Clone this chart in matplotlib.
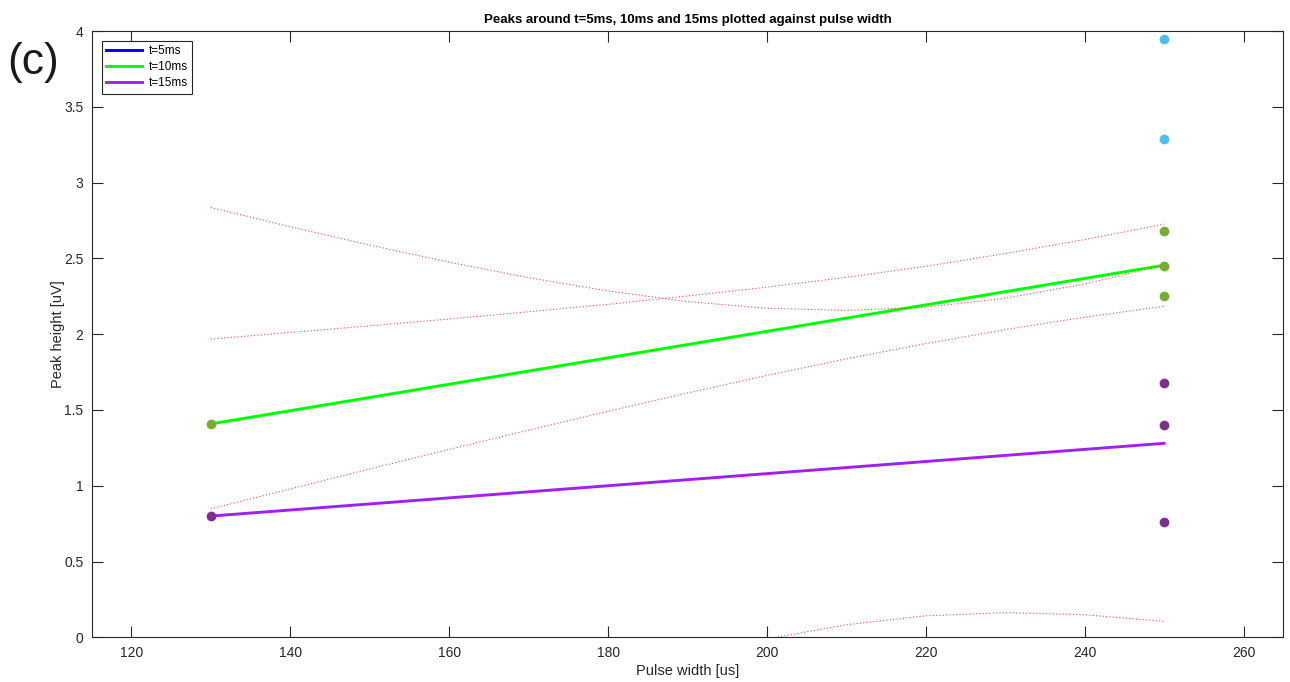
import numpy as np
import matplotlib
matplotlib.use('Agg')
import matplotlib.pyplot as plt

plt.rcParams['font.family'] = ['Liberation Sans', 'DejaVu Sans']

# ── Measured peaks (pulse width in us, peak height in uV) ──────────────────────
pw_5ms = [250, 250]
pk_5ms = [3.95, 3.29]

pw_10ms = [130, 250, 250, 250]
pk_10ms = [1.41, 2.68, 2.45, 2.25]

pw_15ms = [130, 250, 250, 250]
pk_15ms = [0.80, 1.68, 1.40, 0.76]

# ── Linear fits (end points) ───────────────────────────────────────────────────
fit_x = [130, 250]
fit_10ms = [1.408, 2.455]
fit_15ms = [0.80, 1.28]

# ── Confidence bounds (dotted red), read every 10 us ───────────────────────────
bx = [130, 140, 150, 160, 170, 180, 190, 200, 210, 220, 230, 240, 250]
up_10ms = [1.968, 2.011, 2.055, 2.100, 2.148, 2.197, 2.252, 2.310, 2.375,
           2.448, 2.532, 2.624, 2.726]
lo_10ms = [0.848, 0.979, 1.111, 1.240, 1.367, 1.491, 1.612, 1.728, 1.837,
           1.938, 2.030, 2.112, 2.184]
up_15ms = [2.836, 2.709, 2.588, 2.475, 2.373, 2.285, 2.215, 2.171, 2.157,
           2.178, 2.237, 2.331, 2.455]
lo_15ms = [-1.236, -1.029, -0.828, -0.635, -0.453, -0.285, -0.135, -0.011,
           0.083, 0.142, 0.163, 0.149, 0.105]

# ── Plot ───────────────────────────────────────────────────────────────────────
fig = plt.figure(figsize=(12.9, 6.82), dpi=100)
ax = fig.add_axes([0.0711, 0.0655, 0.9237, 0.889])

c_line5, c_line10, c_line15 = '#0000ff', '#00ff00', '#a020f0'
c_pt5, c_pt10, c_pt15 = '#4dbeee', '#77ac30', '#7e2f8e'

ax.plot([], [], color=c_line5, lw=2.1, label='t=5ms')
ax.plot(fit_x, fit_10ms, color=c_line10, lw=2.1, label='t=10ms')
ax.plot(fit_x, fit_15ms, color=c_line15, lw=2.1, label='t=15ms')

for y in (up_10ms, lo_10ms, up_15ms, lo_15ms):
    ax.plot(bx, y, color='#ff3030', lw=0.8, ls=(0, (1, 2)), alpha=0.9)

ax.plot(pw_5ms, pk_5ms, 'o', color=c_pt5, ms=6, zorder=5)
ax.plot(pw_10ms, pk_10ms, 'o', color=c_pt10, ms=6, zorder=5)
ax.plot(pw_15ms, pk_15ms, 'o', color=c_pt15, ms=6, zorder=5)

ax.set_xlim(115, 265)
ax.set_ylim(0, 4)
ax.set_xticks(np.arange(120, 261, 20))
ax.set_yticks(np.arange(0, 4.01, 0.5))
ax.set_yticklabels(['0', '0.5', '1', '1.5', '2', '2.5', '3', '3.5', '4'])
ax.tick_params(direction='in', length=8, width=0.8, top=True, right=True,
               labelsize=10, colors='#262626', pad=6)
for s in ax.spines.values():
    s.set_color('#262626')
    s.set_linewidth(0.8)

ax.set_xlabel('Pulse width [us]', fontsize=10.5, color='#262626', labelpad=3)
ax.set_ylabel('Peak height [uV]', fontsize=10.5, color='#262626', labelpad=-1)
ax.set_title('Peaks around t=5ms, 10ms and 15ms plotted against pulse width',
             fontsize=9.5, fontweight='bold', pad=6)

leg = ax.legend(loc='upper left', fontsize=8.5, handlelength=3.0,
                fancybox=False, framealpha=1, edgecolor='#262626',
                borderpad=0.35, labelspacing=0.35, handletextpad=0.6,
                borderaxespad=0, bbox_to_anchor=(0.0086, 0.9835))
leg.get_frame().set_linewidth(0.8)

fig.text(0.006, 0.908, '(c)', fontsize=32, color='#1a1a1a',
         ha='left', va='center')

plt.savefig('out.png', dpi=100)
